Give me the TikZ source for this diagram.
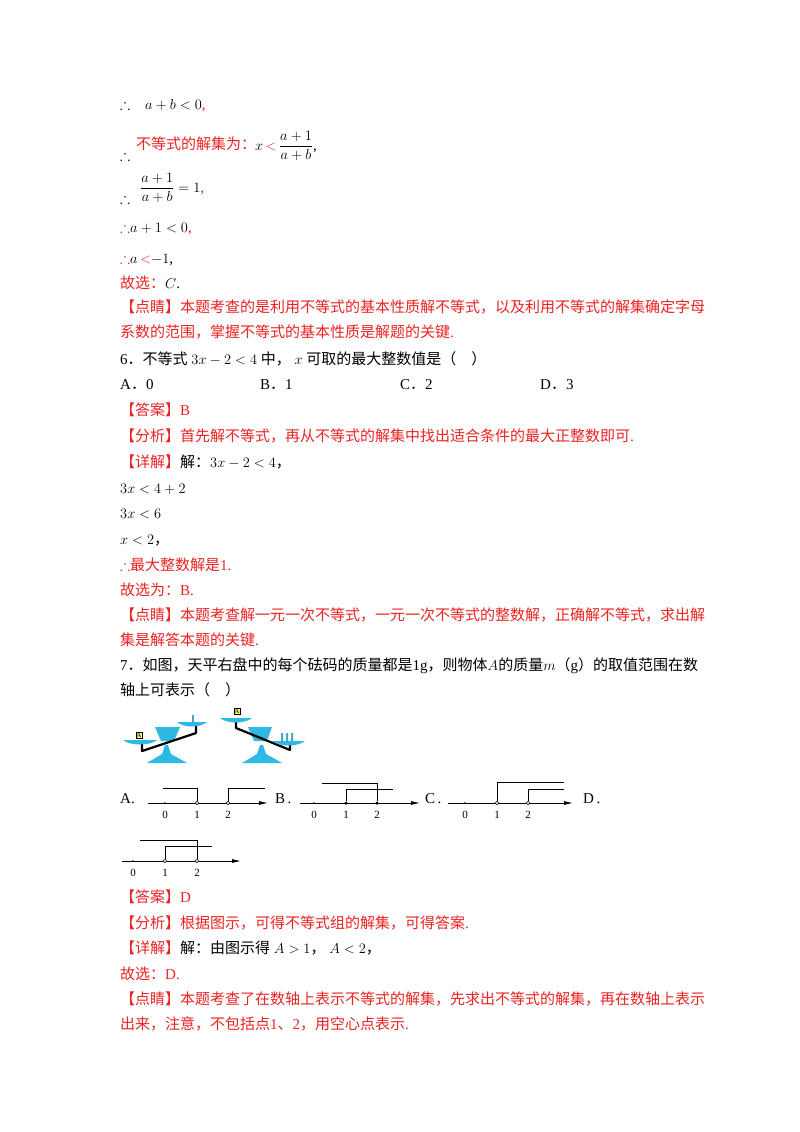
\documentclass[tikz,border=0pt]{standalone}
\usepackage{fontspec}
\usepackage{amsmath,amssymb}
\usetikzlibrary{arrows.meta}
\setmainfont{Liberation Serif}
\newfontfamily\cjk{Noto Sans CJK SC}
\newcommand\zh[1]{{\cjk #1}}
\definecolor{hl}{RGB}{235,35,35}
\definecolor{sc}{RGB}{45,185,225}
\begin{document}
\begin{tikzpicture}[x=1pt,y=-1pt,
  ln/.style={anchor=base west,inner sep=0pt,font=\fontsize{15}{18}\selectfont},
  ax/.style={line width=0.8pt,-{Latex[length=9pt,width=4pt]}},
  br/.style={line width=0.6pt},
  od/.style={circle,draw,fill=white,inner sep=0pt,minimum size=3.5pt},
  fd/.style={circle,fill=black,inner sep=0pt,minimum size=3.5pt},
  nl/.style={font=\fontsize{11}{12}\selectfont,inner sep=1pt},
  beam/.style={line width=2.2pt,line join=round}]
\useasboundingbox[fill=white] (0,0) rectangle (800,1132);
\node[ln] (l1) at (120,109) {$\therefore$\quad $a+b<0$\textcolor{hl}{,}};
\node[ln] (l2a) at (120,160) {$\therefore$};
\node[ln,text=hl] (l2b) at (136,149) {\zh{不等式的解集为：}};
\node[anchor=west,inner sep=0pt,font=\fontsize{15}{18}\selectfont] (l2c) at (255,146) {$x\,\textcolor{hl}{<}\,\dfrac{a+1}{a+b}$,};
\node[ln] (l3a) at (120,203) {$\therefore$};
\node[anchor=west,inner sep=0pt,font=\fontsize{15}{18}\selectfont] (l3b) at (140,188) {$\dfrac{a+1}{a+b}=1$\textcolor{hl}{,}};
\node[ln] (l4) at (120,232) {\textcolor{hl}{$\therefore$}$a+1<0$\textcolor{hl}{,}};
\node[ln] (l5) at (120,263) {\textcolor{hl}{$\therefore$}$a$\,\textcolor{hl}{$<$}$-1$,};
\node[ln] (l6) at (120,288) {\textcolor{hl}{\zh{故选：}}$C$.};
\node[ln,text=hl] (l7) at (120,312) {\zh{【点睛】本题考查的是利用不等式的基本性质解不等式，以及利用不等式的解集确定字母}};
\node[ln,text=hl] (l8) at (120,337) {\zh{系数的范围，掌握不等式的基本性质是解题的关键}.};
\node[ln] (l9) at (120,364) {6\zh{．不等式} $3x-2<4$ \zh{中，} $x$ \zh{可取的最大整数值是（\quad）}};
\node[ln] (l10a) at (120,389) {A\zh{．}0};
\node[ln] (l10b) at (260,389) {B\zh{．}1};
\node[ln] (l10c) at (400,389) {C\zh{．}2};
\node[ln] (l10d) at (540,389) {D\zh{．}3};
\node[ln,text=hl] (l11) at (120,415) {\zh{【答案】}B};
\node[ln,text=hl] (l12) at (120,441) {\zh{【分析】首先解不等式，再从不等式的解集中找出适合条件的最大正整数即可}.};
\node[ln] (l13) at (120,467) {\textcolor{hl}{\zh{【详解】}}\zh{解：}$3x-2<4$\zh{，}};
\node[ln] (l14) at (120,493) {$3x<4+2$};
\node[ln] (l15) at (120,518) {$3x<6$};
\node[ln] (l16) at (120,544) {$x<2$\zh{，}};
\node[ln,text=hl] (l17) at (120,570) {$\therefore$\zh{最大整数解是}1.};
\node[ln,text=hl] (l18) at (120,595) {\zh{故选为：}B.};
\node[ln,text=hl] (l19) at (120,620) {\zh{【点睛】本题考查解一元一次不等式，一元一次不等式的整数解，正确解不等式，求出解}};
\node[ln,text=hl] (l20) at (120,645) {\zh{集是解答本题的关键}.};
\node[ln] (l21) at (120,670) {7\zh{．如图，天平右盘中的每个砝码的质量都是}1g\zh{，则物体}$A$\zh{的质量}$m$\zh{（}g\zh{）的取值范围在数}};
\node[ln] (l22) at (120,695) {\zh{轴上可表示（\quad）}};
% balance left
\fill[sc] (147,763) -- (187,763) -- (171,754) -- (168,745) -- (165,745) -- (162,754) -- cycle;
\fill[sc] (155,727) -- (180,727) -- (174,741) -- (161,741) -- cycle;
\draw[beam] (142,741) -- (142,751) -- (196,733) -- (196,724);
\fill[sc] (123,740) -- (157,740) .. controls (150,746) and (130,746) .. (123,740);
\fill[sc] (177,722) -- (207,722) .. controls (200,728) and (184,728) .. (177,722);
\node[draw=black,fill=yellow!60,inner sep=0.5pt,font=\fontsize{7}{7}\selectfont] (ba1) at (139,735) {A};
\fill[sc!70!gray] (192,715) rectangle (194,722);
% balance right
\fill[sc] (242,763) -- (282,763) -- (266,754) -- (263,745) -- (260,745) -- (257,754) -- cycle;
\fill[sc] (248,727) -- (272,727) -- (267,741) -- (254,741) -- cycle;
\draw[beam] (236,722) -- (236,728) -- (290,750) -- (290,743);
\fill[sc] (220,718) -- (252,718) .. controls (245,724) and (227,724) .. (220,718);
\fill[sc] (272,741) -- (305,741) .. controls (298,747) and (279,747) .. (272,741);
\node[draw=black,fill=yellow!60,inner sep=0.5pt,font=\fontsize{7}{7}\selectfont] (ba2) at (237,711) {A};
\fill[sc!70!gray] (281,733) rectangle (283,741) (286,733) rectangle (288,741) (291,733) rectangle (293,741);
% option A
\node[ln] (oa) at (120,803) {A.};
\coordinate (a0) at (148,803); \coordinate (a1) at (268,803);
\draw[ax] (a0) -- (a1);
\node[fd,minimum size=2pt] (ta0) at (165,803) {};
\node[od] (ta1) at (197,803) {};
\node[od] (ta2) at (228,803) {};
\node[nl] (na0) at (165,815) {0}; \node[nl] (na1) at (197,815) {1}; \node[nl] (na2) at (228,815) {2};
\coordinate (ap) at (163,788); \coordinate (aq) at (265,788);
\draw[br] (ap) -| (ta1);
\draw[br] (ta2) |- (aq);
% option B
\node[ln] (ob) at (275,803) {B\,.};
\coordinate (b0) at (300,803); \coordinate (b1) at (420,803);
\draw[ax] (b0) -- (b1);
\node[fd,minimum size=2pt] (tb0) at (314,803) {};
\node[fd] (tb1) at (346,803) {};
\node[fd] (tb2) at (377,803) {};
\node[nl] (nb0) at (314,815) {0}; \node[nl] (nb1) at (346,815) {1}; \node[nl] (nb2) at (377,815) {2};
\coordinate (bp) at (322,783); \coordinate (bq) at (393,789);
\draw[br] (bp) -| (tb2);
\draw[br] (tb1) |- (bq);
% option C
\node[ln] (oc) at (425,803) {C\,.};
\coordinate (c0) at (448,803); \coordinate (c1) at (573,803);
\draw[ax] (c0) -- (c1);
\node[fd,minimum size=2pt] (tc0) at (465,803) {};
\node[od] (tc1) at (497,803) {};
\node[od] (tc2) at (528,803) {};
\node[nl] (nc0) at (465,815) {0}; \node[nl] (nc1) at (497,815) {1}; \node[nl] (nc2) at (528,815) {2};
\coordinate (cp) at (564,782); \coordinate (cq) at (564,789);
\draw[br] (tc1) |- (cp);
\draw[br] (tc2) |- (cq);
\node[ln] (od) at (583,803) {D\,.};
% option D
\coordinate (d0) at (122,861); \coordinate (d1) at (241,861);
\draw[ax] (d0) -- (d1);
\node[fd,minimum size=2pt] (td0) at (133,861) {};
\node[od] (td1) at (165,861) {};
\node[od] (td2) at (197,861) {};
\node[nl] (nd0) at (133,873) {0}; \node[nl] (nd1) at (165,873) {1}; \node[nl] (nd2) at (197,873) {2};
\coordinate (dp) at (140,840); \coordinate (dq) at (212,846);
\draw[br] (dp) -| (td2);
\draw[br] (td1) |- (dq);
% answers
\node[ln,text=hl] (m1) at (120,902) {\zh{【答案】}D};
\node[ln,text=hl] (m2) at (120,928) {\zh{【分析】根据图示，可得不等式组的解集，可得答案}.};
\node[ln] (m3) at (120,953) {\textcolor{hl}{\zh{【详解】}}\zh{解：由图示得} $A>1$\zh{，} $A<2$\zh{，}};
\node[ln,text=hl] (m4) at (120,979) {\zh{故选：}D.};
\node[ln,text=hl] (m5) at (120,1004) {\zh{【点睛】本题考查了在数轴上表示不等式的解集，先求出不等式的解集，再在数轴上表示}};
\node[ln,text=hl] (m6) at (120,1029) {\zh{出来，注意，不包括点}1\zh{、}2\zh{，用空心点表示}.};
\end{tikzpicture}
\end{document}
